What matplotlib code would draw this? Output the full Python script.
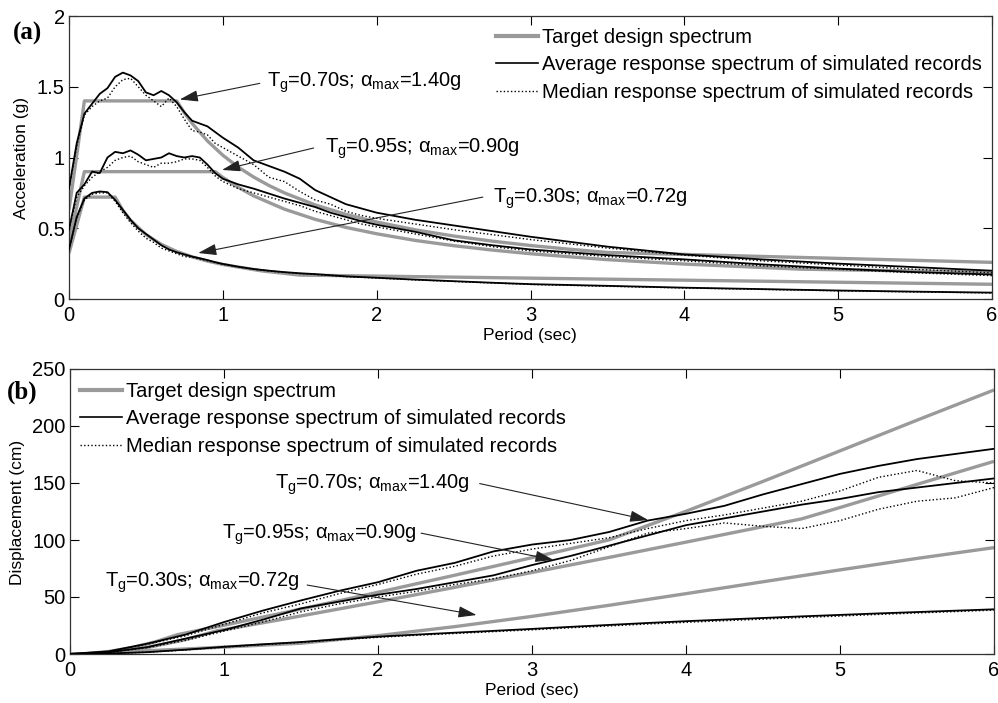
import matplotlib
matplotlib.use("Agg")
import matplotlib.pyplot as plt
from matplotlib.lines import Line2D

# ---------------- data: (a) acceleration response spectra (g) ----------------
period_sim = [0, 0.05, 0.1, 0.15, 0.2, 0.25, 0.3, 0.35, 0.4, 0.45, 0.5, 0.55, 0.6, 0.65,
              0.7, 0.75, 0.8, 0.85, 0.9, 0.95, 1.0, 1.1, 1.2, 1.3, 1.4, 1.5, 1.6, 1.7,
              1.8, 1.9, 2.0, 2.25, 2.5, 2.75, 3.0, 3.5, 4.0, 4.5, 5.0, 5.5, 6.0]
acc_avg_070 = [0.78, 1.10, 1.31, 1.38, 1.45, 1.49, 1.57, 1.60, 1.58, 1.54, 1.46, 1.44, 1.47, 1.44,
               1.39, 1.32, 1.26, 1.24, 1.22, 1.18, 1.14, 1.07, 0.98, 0.94, 0.90, 0.85, 0.77, 0.72,
               0.67, 0.64, 0.61, 0.56, 0.52, 0.48, 0.44, 0.37, 0.315, 0.28, 0.25, 0.225, 0.20]
acc_med_070 = [0.78, 1.08, 1.30, 1.36, 1.40, 1.42, 1.50, 1.55, 1.56, 1.50, 1.44, 1.40, 1.36, 1.42,
               1.36, 1.27, 1.19, 1.18, 1.16, 1.10, 1.07, 1.01, 0.95, 0.86, 0.83, 0.76, 0.70, 0.67,
               0.62, 0.59, 0.57, 0.53, 0.49, 0.455, 0.42, 0.36, 0.31, 0.27, 0.24, 0.21, 0.185]
acc_avg_095 = [0.49, 0.75, 0.81, 0.90, 0.89, 1.00, 1.04, 1.03, 1.05, 1.02, 0.98, 0.99, 1.00, 1.03,
               1.01, 1.00, 1.01, 1.00, 0.95, 0.89, 0.85, 0.81, 0.78, 0.745, 0.71, 0.68, 0.65, 0.61,
               0.58, 0.55, 0.525, 0.475, 0.415, 0.38, 0.35, 0.31, 0.28, 0.245, 0.215, 0.19, 0.173]
acc_med_095 = [0.49, 0.72, 0.80, 0.86, 0.90, 0.93, 0.98, 1.00, 1.01, 0.97, 0.95, 0.93, 0.96, 0.96,
               0.97, 0.99, 0.99, 0.98, 0.93, 0.87, 0.83, 0.78, 0.75, 0.72, 0.69, 0.66, 0.62, 0.59,
               0.56, 0.53, 0.51, 0.46, 0.41, 0.37, 0.34, 0.30, 0.27, 0.235, 0.21, 0.185, 0.165]
acc_avg_030 = [0.35, 0.58, 0.71, 0.75, 0.76, 0.755, 0.70, 0.63, 0.56, 0.50, 0.46, 0.42, 0.38, 0.35,
               0.33, 0.315, 0.30, 0.288, 0.275, 0.26, 0.248, 0.228, 0.212, 0.20, 0.19, 0.182, 0.176,
               0.168, 0.16, 0.155, 0.15, 0.137, 0.126, 0.115, 0.105, 0.093, 0.08, 0.07, 0.06, 0.052, 0.045]
acc_med_030 = [0.35, 0.57, 0.70, 0.74, 0.75, 0.75, 0.69, 0.61, 0.54, 0.48, 0.43, 0.40, 0.36, 0.34,
               0.32, 0.30, 0.295, 0.283, 0.27, 0.257, 0.245, 0.226, 0.21, 0.198, 0.188, 0.18, 0.173,
               0.166, 0.158, 0.153, 0.148, 0.135, 0.124, 0.113, 0.103, 0.09, 0.078, 0.068, 0.058, 0.05, 0.043]

tgt_period_070 = [0, 0.1, 0.7, 0.75, 0.8, 0.9, 1.0, 1.1, 1.2, 1.3, 1.4, 1.6, 1.8, 2.0, 2.25, 2.5,
                  2.75, 3.0, 3.25, 3.5, 6.0]
tgt_acc_070 = [0.63, 1.40, 1.40, 1.316, 1.242, 1.117, 1.016, 0.932, 0.862, 0.802, 0.750, 0.665,
               0.598, 0.544, 0.489, 0.445, 0.409, 0.378, 0.352, 0.329, 0.259]
tgt_period_095 = [0, 0.1, 0.95, 1.0, 1.1, 1.2, 1.4, 1.6, 1.8, 2.0, 2.25, 2.5, 2.75, 3.0, 3.5, 4.0,
                  4.75, 6.0]
tgt_acc_095 = [0.405, 0.90, 0.90, 0.859, 0.789, 0.729, 0.635, 0.563, 0.506, 0.461, 0.414, 0.377,
               0.346, 0.320, 0.278, 0.247, 0.211, 0.189]
tgt_period_030 = [0, 0.1, 0.3, 0.35, 0.4, 0.5, 0.6, 0.7, 0.8, 0.9, 1.0, 1.25, 1.5, 6.0]
tgt_acc_030 = [0.324, 0.72, 0.72, 0.627, 0.556, 0.455, 0.386, 0.336, 0.298, 0.268, 0.244, 0.199,
               0.169, 0.104]

# ---------------- data: (b) displacement response spectra (cm) ----------------
period_sim_d = [0, 0.25, 0.5, 0.75, 1.0, 1.25, 1.5, 1.75, 2.0, 2.25, 2.5, 2.75, 3.0, 3.25, 3.5,
                3.75, 4.0, 4.25, 4.5, 4.75, 5.0, 5.25, 5.5, 5.75, 6.0]
dis_avg_070 = [0, 2.3, 9, 17, 28, 38, 47, 55.5, 63, 73, 80, 90, 96, 100, 107, 117, 123, 130, 140,
               149, 158, 165, 171, 175.5, 180]
dis_med_070 = [0, 2.2, 8.5, 16, 26, 36, 44, 53, 61, 70, 77, 86, 92, 97, 102, 110, 117, 122, 128,
               134, 143, 155, 161, 152, 150]
dis_avg_095 = [0, 1.5, 6, 13.5, 21, 30, 40, 46, 52, 57, 63, 69, 78, 86, 95, 104, 113, 119, 125,
               131, 136, 142, 146, 150, 154]
dis_med_095 = [0, 1.4, 5.5, 12, 20, 28, 37, 44, 50, 55, 61, 66, 73, 82, 94, 106, 110, 115, 112,
               110, 117, 127, 134, 137, 146]
dis_avg_030 = [0, 0.4, 1.6, 3.8, 6.3, 8.5, 10.5, 13, 15.2, 17, 18.7, 20.3, 22, 23.8, 25.5, 27.2,
               28.8, 30.2, 31.6, 33, 34.3, 35.6, 36.8, 38, 39.2]
dis_med_030 = [0, 0.4, 1.5, 3.6, 6.0, 8.2, 10.1, 12.5, 14.6, 16.4, 18.0, 19.6, 21.2, 23, 24.6,
               26.3, 27.8, 29.2, 30.6, 32, 33.3, 34.7, 36, 37.2, 38.5]

tgt_dperiod_070 = [0, 0.1, 0.25, 0.4, 0.55, 0.7, 1.0, 1.4, 2.0, 2.5, 3.0, 3.5, 4.0, 4.5, 5.0, 5.5, 6.0]
tgt_dis_070 = [0, 0.35, 2.17, 5.57, 10.52, 17.05, 25.24, 36.54, 54.10, 69.15, 84.52, 100.1, 125.2,
               151.4, 178.2, 205.1, 231.6]
tgt_dperiod_095 = [0, 0.1, 0.3, 0.5, 0.75, 0.95, 1.4, 2.0, 2.5, 3.0, 3.5, 4.0, 4.75, 5.0, 5.5, 6.0]
tgt_dis_095 = [0, 0.22, 2.01, 5.59, 12.58, 20.18, 30.92, 45.78, 58.51, 71.52, 84.72, 98.13, 118.5,
               128.5, 148.8, 169.0]
tgt_dperiod_030 = [0, 0.1, 0.2, 0.3, 0.5, 0.75, 1.0, 1.5, 2.0, 2.5, 3.0, 3.5, 4.0, 4.5, 5.0, 5.5, 6.0]
tgt_dis_030 = [0, 0.18, 0.72, 1.61, 2.82, 4.41, 6.06, 9.45, 16.10, 24.03, 32.99, 42.72, 52.93,
               63.37, 73.77, 83.84, 93.31]

legend_labels = ["Target design spectrum",
                 "Average response spectrum of simulated records",
                 "Median response spectrum of simulated records"]
case_labels = [r"T$_{\mathrm{g}}$=0.70s; $\mathrm{\alpha}_{\mathrm{max}}$=1.40g",
               r"T$_{\mathrm{g}}$=0.95s; $\mathrm{\alpha}_{\mathrm{max}}$=0.90g",
               r"T$_{\mathrm{g}}$=0.30s; $\mathrm{\alpha}_{\mathrm{max}}$=0.72g"]

# ---------------- style ----------------
plt.rcParams['font.family'] = ['Liberation Sans', 'DejaVu Sans']
plt.rcParams['mathtext.fontset'] = 'custom'
plt.rcParams['mathtext.rm'] = 'Liberation Sans'
plt.rcParams['mathtext.it'] = 'Liberation Sans'
plt.rcParams['mathtext.bf'] = 'Liberation Sans:bold'

GRAY = '#9a9a9a'
DOTS = (0, (1, 1.6))
TGT = dict(color=GRAY, lw=2.4, solid_capstyle='butt', zorder=2)
AVG = dict(color='black', lw=1.3, zorder=3)
MED = dict(color='black', lw=1.0, linestyle=DOTS, zorder=4)

W, H = 998, 703
fig = plt.figure(figsize=(W / 100, H / 100), dpi=100)
ax1 = fig.add_axes([69 / W, 1 - 299 / H, (992 - 69) / W, (299 - 16) / H])
ax2 = fig.add_axes([70 / W, 1 - 654 / H, (994 - 70) / W, (654 - 369) / H])


def style_axes(ax, ymax, yticks):
    ax.set_xlim(0, 6)
    ax.set_ylim(0, ymax)
    ax.set_xticks(range(0, 7))
    ax.set_yticks(yticks)
    ax.tick_params(direction='in', top=True, right=True, length=6.5, width=0.8,
                   labelsize=14.5, colors='black')
    ax.tick_params(axis='x', pad=5)
    ax.tick_params(axis='y', pad=3)
    for s in ax.spines.values():
        s.set_linewidth(0.9)
        s.set_color('#333333')


# ---- panel (a)
ax1.plot(tgt_period_070, tgt_acc_070, **TGT)
ax1.plot(tgt_period_095, tgt_acc_095, **TGT)
ax1.plot(tgt_period_030, tgt_acc_030, **TGT)
ax1.plot(period_sim, acc_avg_070, **AVG)
ax1.plot(period_sim, acc_avg_095, **AVG)
ax1.plot(period_sim, acc_avg_030, **AVG)
ax1.plot(period_sim, acc_med_070, **MED)
ax1.plot(period_sim, acc_med_095, **MED)
ax1.plot(period_sim, acc_med_030, **MED)
style_axes(ax1, 2, [0, 0.5, 1, 1.5, 2])
ax1.set_yticklabels(['0', '0.5', '1', '1.5', '2'])

# ---- panel (b)
ax2.plot(tgt_dperiod_070, tgt_dis_070, **TGT)
ax2.plot(tgt_dperiod_095, tgt_dis_095, **TGT)
ax2.plot(tgt_dperiod_030, tgt_dis_030, **TGT)
ax2.plot(period_sim_d, dis_avg_070, **AVG)
ax2.plot(period_sim_d, dis_avg_095, **AVG)
ax2.plot(period_sim_d, dis_avg_030, **AVG)
ax2.plot(period_sim_d, dis_med_070, **MED)
ax2.plot(period_sim_d, dis_med_095, **MED)
ax2.plot(period_sim_d, dis_med_030, **MED)
style_axes(ax2, 250, [0, 50, 100, 150, 200, 250])

# ---- legends
handles = [Line2D([], [], color=GRAY, lw=3.0),
           Line2D([], [], color='black', lw=1.2),
           Line2D([], [], color='black', lw=1.0, linestyle=DOTS)]
for ax, x0, y0 in [(ax1, 496, 28), (ax2, 80, 382)]:
    ax.legend(handles, legend_labels, loc='upper left', bbox_to_anchor=(x0 / W, 1 - y0 / H),
              bbox_transform=fig.transFigure, frameon=False, fontsize=14.5, borderpad=0,
              borderaxespad=0, handlelength=2.1, handletextpad=0.2, labelspacing=0.42)

# ---- annotations
ARROW = dict(arrowstyle='-|>,head_length=0.8,head_width=0.25', color='#222222', lw=0.8,
             shrinkA=0, shrinkB=0, mutation_scale=14)
ann_a = [  # text pos, arrow start, arrow head
    ((1.287, 1.498), (1.24, 1.524), (0.72, 1.41)),
    ((1.664, 1.032), (1.59, 1.067), (0.995, 0.912)),
    ((2.757, 0.680), (2.69, 0.72), (0.84, 0.325)),
]
ann_b = [
    ((1.331, 145.4), (2.66, 149.5), (3.755, 117.5)),
    ((0.987, 101.5), (2.28, 106.0), (3.14, 82.5)),
    ((0.227, 58.8), (1.54, 60.5), (2.64, 34.2)),
]
for ax, anns in [(ax1, ann_a), (ax2, ann_b)]:
    for lab, (tpos, a0, a1) in zip(case_labels, anns):
        ax.text(tpos[0], tpos[1], lab, fontsize=14.5, ha='left', va='baseline', zorder=6)
        ax.annotate('', xy=a1, xytext=a0, arrowprops=ARROW, zorder=6)

# ---- labels
fig.text(27 / W, 1 - 33 / H, '(a)', fontsize=18, fontweight='bold',
         family=['Liberation Serif', 'DejaVu Serif'], ha='center', va='center')
fig.text(22 / W, 1 - 392 / H, '(b)', fontsize=18, fontweight='bold',
         family=['Liberation Serif', 'DejaVu Serif'], ha='center', va='center')
fig.text(22 / W, 1 - 158 / H, 'Acceleration (g)', fontsize=12.5, rotation=90,
         ha='center', va='center')
fig.text(17.5 / W, 1 - 512 / H, 'Displacement (cm)', fontsize=12.5, rotation=90,
         ha='center', va='center')
fig.text(530 / W, 1 - 335 / H, 'Period (sec)', fontsize=12.5, ha='center', va='center')
fig.text(532 / W, 1 - 690 / H, 'Period (sec)', fontsize=12.5, ha='center', va='center')

fig.savefig('out.png', dpi=100)
